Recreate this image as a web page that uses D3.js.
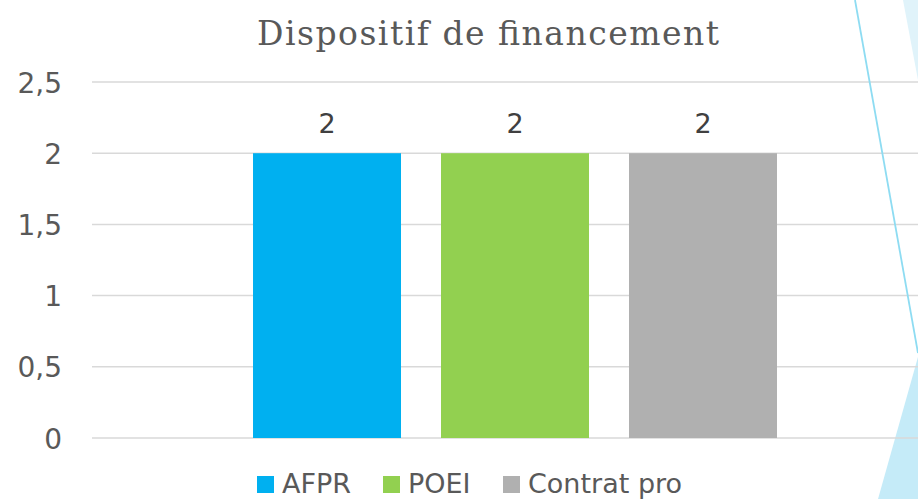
<!DOCTYPE html>
<html>
<head>
<meta charset="utf-8">
<script src="https://cdn.jsdelivr.net/npm/d3@7"></script>
<style>
  html, body { margin: 0; padding: 0; background: #fff; overflow: hidden; }
</style>
</head>
<body>
<script>
var width = 918;
var height = 499;
var margin = ({top: 82, right: -20, bottom: 61, left: 92});

var title = "Dispositif de financement";
var categories = [""];
var series = ["AFPR", "POEI", "Contrat pro"];
var values = [2, 2, 2];
var colors = ["#00B0F0", "#92D050", "#B0B0B0"];
var yTicks = [0, 0.5, 1, 1.5, 2, 2.5];

var svg = d3.select("body").append("svg")
    .attr("width", width)
    .attr("height", height)
    .attr("viewBox", [0, 0, width, height]);

// decorative slide shapes on the right
svg.append("path")
    .attr("d", "M903,0 L918,0 L918,80 Z")
    .attr("fill", "#E0F3FA");
svg.append("path")
    .attr("d", "M918,357 L878,499 L918,499 Z")
    .attr("fill", "#C5EBF8");

var x0 = d3.scaleBand()
    .domain(categories)
    .range([margin.left, width - margin.right])
    .paddingInner(0)
    .paddingOuter(0.3073);

var x1 = d3.scaleBand()
    .domain(series)
    .range([0, x0.bandwidth()])
    .paddingInner(0.2128)
    .paddingOuter(0);

var y = d3.scaleLinear()
    .domain([0, 2.5])
    .range([height - margin.bottom, margin.top]);

var fmt = d => d3.format("")(d).replace(".", ",");

// grid
svg.append("g")
  .selectAll("line")
  .data(yTicks)
  .join("line")
    .attr("x1", margin.left)
    .attr("x2", width)
    .attr("y1", d => y(d))
    .attr("y2", d => y(d))
    .attr("stroke", "#D9D9D9")
    .attr("stroke-width", 1.5);

// y axis labels
var yAxis = g => g
    .attr("transform", `translate(${margin.left - 30},0)`)
    .call(d3.axisLeft(y).tickValues(yTicks).tickFormat(fmt).tickSize(0).tickPadding(0))
    .call(g => g.select(".domain").remove())
    .call(g => g.selectAll("text")
        .attr("font-family", "DejaVu Sans, sans-serif")
        .attr("font-size", 28)
        .attr("fill", "#595959")
        .attr("dy", "0.36em"));

svg.append("g").call(yAxis);

var rows = series.map((s, i) => ({key: s, value: values[i], color: colors[i], cat: categories[0]}));

var groups = svg.append("g")
  .selectAll("g")
  .data(categories)
  .join("g")
    .attr("transform", d => `translate(${x0(d)},0)`);

groups.selectAll("rect")
  .data(c => rows.filter(r => r.cat === c))
  .join("rect")
    .attr("x", d => x1(d.key))
    .attr("y", d => y(d.value))
    .attr("width", x1.bandwidth())
    .attr("height", d => y(0) - y(d.value))
    .attr("fill", d => d.color);

groups.selectAll("text")
  .data(c => rows.filter(r => r.cat === c))
  .join("text")
    .attr("x", d => x1(d.key) + x1.bandwidth() / 2)
    .attr("y", d => y(d.value) - 20)
    .attr("text-anchor", "middle")
    .attr("font-family", "DejaVu Sans, sans-serif")
    .attr("font-size", 27)
    .attr("fill", "#404040")
    .text(d => fmt(d.value));

// title
svg.append("text")
    .attr("x", 488)
    .attr("y", 45)
    .attr("text-anchor", "middle")
    .attr("font-family", "DejaVu Serif, serif")
    .attr("font-size", 33)
    .attr("textLength", 462)
    .attr("lengthAdjust", "spacing")
    .attr("fill", "#595959")
    .text(title);

// legend
var legendX = [257, 383, 503];
var legend = svg.append("g")
  .selectAll("g")
  .data(rows)
  .join("g")
    .attr("transform", (d, i) => `translate(${legendX[i]},476)`);

legend.append("rect")
    .attr("width", 17)
    .attr("height", 17)
    .attr("fill", d => d.color);

legend.append("text")
    .attr("x", 25)
    .attr("y", 17)
    .attr("font-family", "DejaVu Sans, sans-serif")
    .attr("font-size", 27)
    .attr("fill", "#595959")
    .text(d => d.key);

// thin decorative line over the chart
svg.append("line")
    .attr("x1", 855).attr("y1", 0)
    .attr("x2", 918).attr("y2", 353)
    .attr("stroke", "#8EDCF2")
    .attr("stroke-width", 1.8);
</script>
</body>
</html>
